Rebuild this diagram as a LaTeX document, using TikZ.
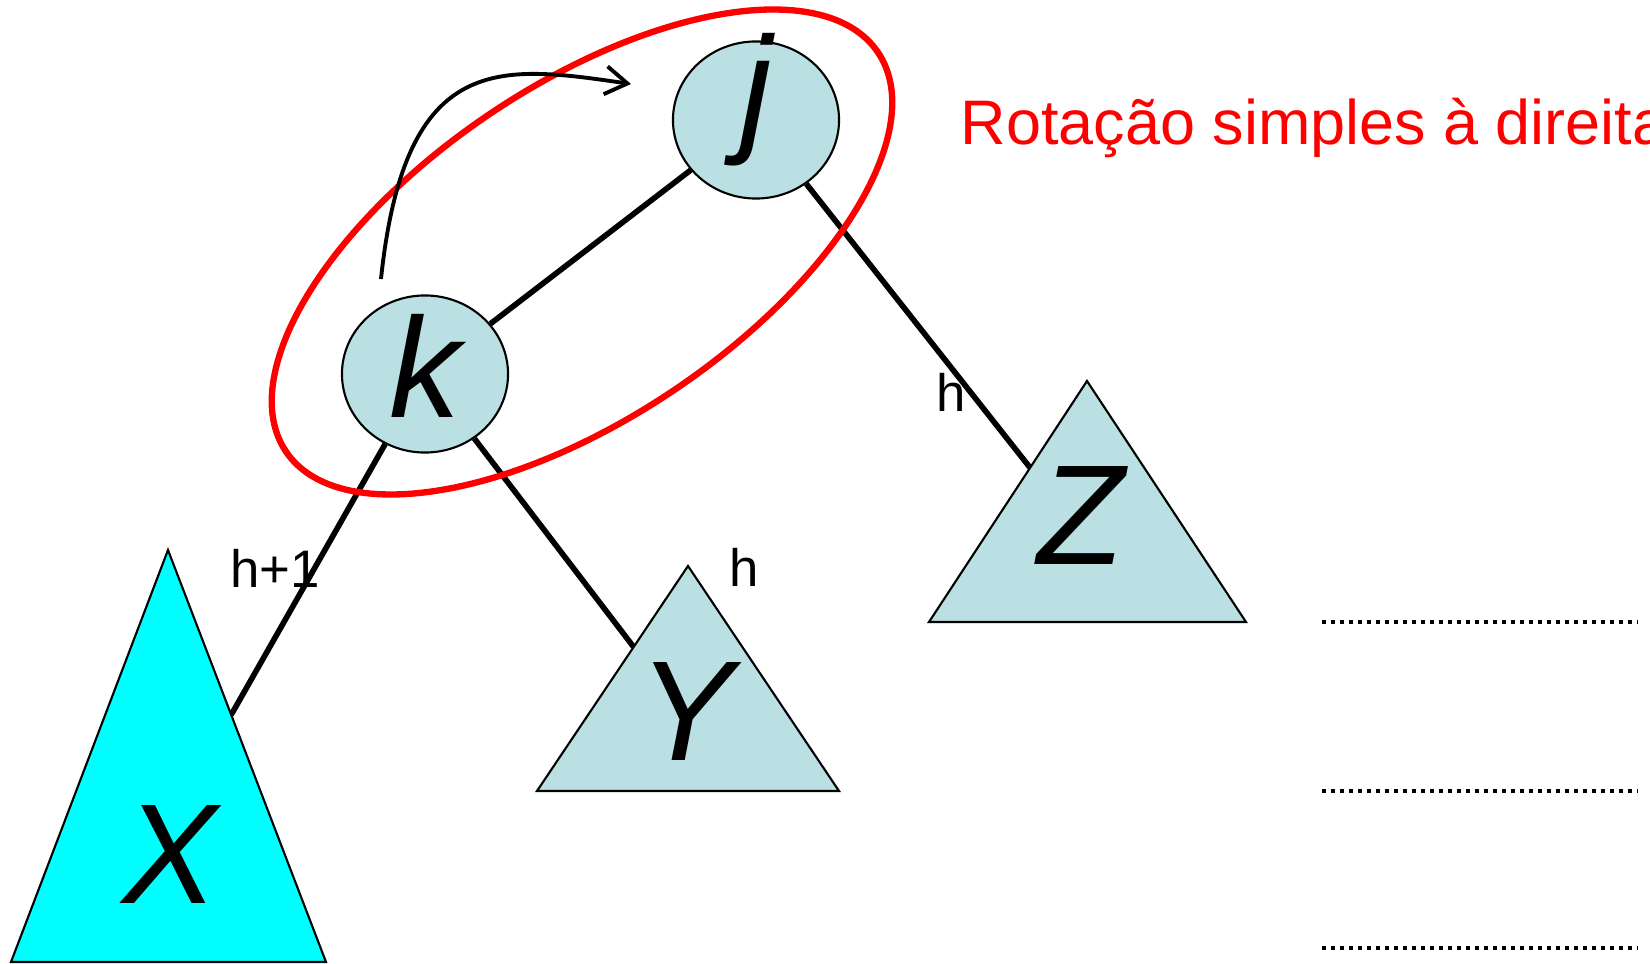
\documentclass[tikz,border=0pt]{standalone}
\usepackage{fontspec}
\setmainfont{Liberation Sans}
\usetikzlibrary{shapes.geometric,arrows.meta,calc}
\definecolor{NodeBlue}{HTML}{BBE0E3}
\definecolor{TreeCyan}{HTML}{00FFFF}
\definecolor{RotRed}{HTML}{FF0000}

\begin{document}
\begin{tikzpicture}[x=0.01cm,y=-0.01cm,>={Straight Barb[length=2.2mm,width=2.8mm]}]
  \tikzstyle{keynode}=[ellipse,draw=black,line width=0.6pt,fill=NodeBlue,
    minimum width=1.66cm,minimum height=1.57cm,inner sep=0pt,text depth=0pt,
    font=\fontsize{40.5}{48}\selectfont\itshape]
  \tikzstyle{subtree}=[draw=black,line width=0.6pt,fill=NodeBlue]
  \tikzstyle{treename}=[anchor=base,inner sep=0pt,font=\fontsize{40.5}{48}\selectfont\itshape]
  \tikzstyle{hlabel}=[anchor=base,inner sep=0pt,font=\fontsize{15}{18}\selectfont]
  \tikzstyle{link}=[line width=1.6pt]
  \tikzstyle{blank}=[line width=1.2pt,dash pattern=on 0.04cm off 0.05cm]
  \useasboundingbox (0,0) rectangle (1650,964);
  \node[keynode,text height=0.32cm] (j) at (756,120) {j};
  \node[keynode,text height=0.86cm] (k) at (425,374) {k};
  \coordinate (xtop) at (168,550); \coordinate (xbr) at (326,962); \coordinate (xbl) at (11,962);
  \coordinate (ytop) at (688,566); \coordinate (ybr) at (839,791); \coordinate (ybl) at (537,791);
  \coordinate (ztop) at (1087,381); \coordinate (zbr) at (1246,622); \coordinate (zbl) at (929,622);
  \draw[link] (k) -- (j);
  \draw[link] (k) -- ($(xtop)!0.40!(xbr)$);
  \draw[link] (k) -- ($(ytop)!0.36!(ybl)$);
  \draw[link] (j) -- ($(ztop)!0.36!(zbl)$);
  \draw[subtree,fill=TreeCyan] (xtop) -- (xbr) -- (xbl) -- cycle;
  \draw[subtree] (ytop) -- (ybr) -- (ybl) -- cycle;
  \draw[subtree] (ztop) -- (zbr) -- (zbl) -- cycle;
  \node[treename] (xname) at (170,904) {X};
  \node[treename] (yname) at (686,761) {Y};
  \node[treename] (zname) at (1081,565) {Z};
  \node[hlabel] (hx) at (275,588) {h+1};
  \node[hlabel] (hy) at (744,587) {h};
  \node[hlabel] (hz) at (951,412) {h};
  % rotation marker
  \draw[RotRed,line width=1.8pt,rotate around={34:(582,252)}] (582,252) ellipse [x radius=357,y radius=166];
  \coordinate (rotstart) at (381,279);
  \coordinate (rotend) at (631,84);
  \draw[->,line width=1.1pt] (rotstart) .. controls (405,50) and (500,65) .. (rotend);
  \node[anchor=base west,inner sep=0pt,text=RotRed,font=\fontsize{17.9}{21}\selectfont] (title) at (960,145) {Rotação simples à direita};
  \foreach \y in {622,791,948}
    \draw[blank] (1322,\y) -- (1638,\y);
\end{tikzpicture}
\end{document}
